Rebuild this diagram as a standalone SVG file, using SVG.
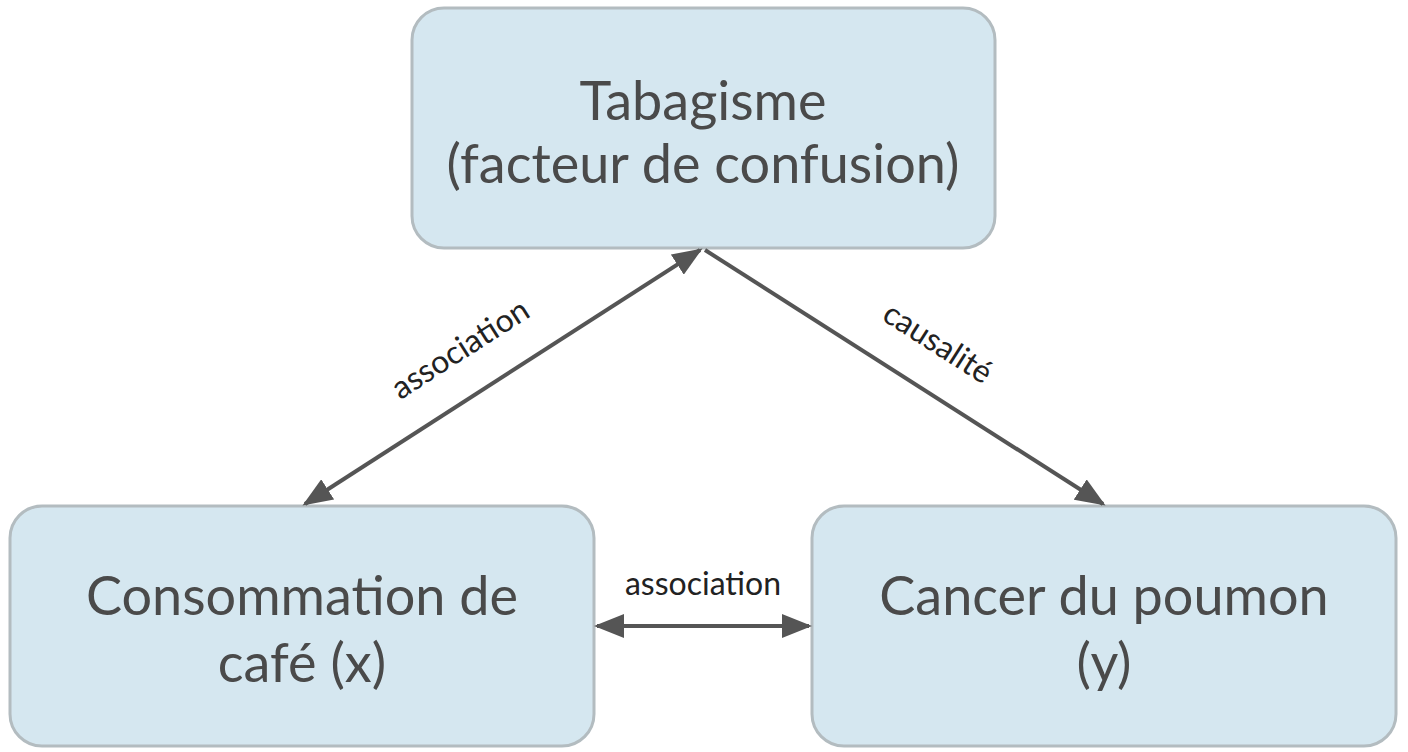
<svg xmlns="http://www.w3.org/2000/svg" width="1408" height="752" viewBox="0 0 1408 752">
<style>
.box{fill:#d5e7f0;stroke:#b3bcc0;stroke-width:3}
.t{font-family:Lato,"Open Sans",sans-serif;font-size:54px;fill:#4a4a4a;text-anchor:middle}
.l{font-family:Lato,"Open Sans",sans-serif;font-size:32px;fill:#222;text-anchor:middle}
.c{stroke:#555;stroke-width:4;fill:none}
</style>
<defs>
<marker id="a" viewBox="0 0 10 10" refX="9" refY="5" markerWidth="30" markerHeight="24" markerUnits="userSpaceOnUse" orient="auto-start-reverse" preserveAspectRatio="none"><path d="M0,0L10,5L0,10z" fill="#555"/></marker>
</defs>
<rect width="1408" height="752" fill="#fff"/>
<g id="tabagisme"><rect class="box" x="412" y="8" width="583" height="240" rx="32"/>
<text class="t" x="703" y="120">Tabagisme</text><text class="t" x="703" y="183">(facteur de confusion)</text></g>
<g id="cafe"><rect class="box" x="10" y="506" width="584" height="240" rx="32"/>
<text class="t" x="302" y="615">Consommation de</text><text class="t" x="302" y="682">café (x)</text></g>
<g id="cancer"><rect class="box" x="812" y="506" width="584" height="240" rx="32"/>
<text class="t" x="1104" y="615">Cancer du poumon</text><text class="t" x="1104" y="682">(y)</text></g>
<g id="connectors">
<line class="c" x1="700" y1="250" x2="305" y2="504" marker-start="url(#a)" marker-end="url(#a)"/>
<line class="c" x1="705" y1="250" x2="1103" y2="504" marker-end="url(#a)"/>
<line class="c" x1="597" y1="626" x2="809" y2="626" marker-start="url(#a)" marker-end="url(#a)"/>
<text class="l" transform="translate(466,358) rotate(-32.7)">association</text>
<text class="l" transform="translate(932,352) rotate(32.5)">causalité</text>
<text class="l" x="703" y="595">association</text>
</g>
</svg>
